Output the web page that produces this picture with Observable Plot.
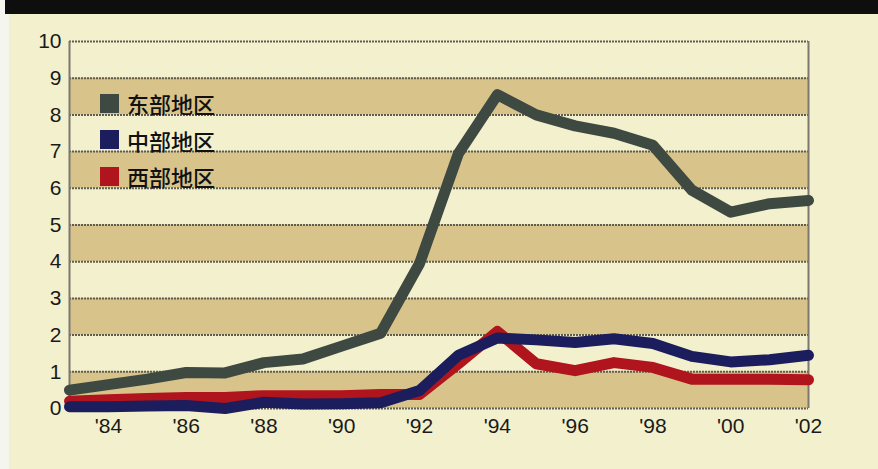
<!DOCTYPE html>
<html><head><meta charset="utf-8">
<script src="https://cdn.jsdelivr.net/npm/d3@7"></script>
<script src="https://cdn.jsdelivr.net/npm/@observablehq/plot@0.6"></script>
<style>
html,body{margin:0;padding:0;background:#f3f0cd;}
#wrap{position:relative;width:878px;height:469px;overflow:hidden;}
#topbar{position:absolute;left:5px;top:0;width:873px;height:14px;background:#0e0e0e;}
#leftstrip{position:absolute;left:0;top:0;width:9px;height:469px;background:#f4f5ee;}
#legend{position:absolute;left:100px;top:85px;font-family:"Noto Sans CJK SC",sans-serif;font-size:22px;font-weight:500;color:#111;}
.item{display:flex;align-items:center;height:36.5px;}
.sw{width:19px;height:19px;margin-right:8px;}
</style></head><body>
<div id="wrap"><div id="chart"></div><div id="leftstrip"></div><div id="topbar"></div><div id="legend"></div></div>
<script>
const years = [1983,1984,1985,1986,1987,1988,1989,1990,1991,1992,1993,1994,1995,1996,1997,1998,1999,2000,2001,2002];
const east = [0.5,0.65,0.8,0.98,0.97,1.25,1.35,1.7,2.05,3.95,6.95,8.55,8.0,7.7,7.5,7.17,5.95,5.35,5.58,5.67];
const central = [0.05,0.05,0.07,0.08,0.0,0.17,0.12,0.13,0.16,0.49,1.45,1.92,1.87,1.8,1.9,1.77,1.42,1.27,1.33,1.45];
const west = [0.2,0.24,0.27,0.3,0.3,0.35,0.35,0.35,0.38,0.38,1.22,2.1,1.22,1.03,1.25,1.12,0.8,0.8,0.8,0.78];
const seriesNames = ["东部地区","中部地区","西部地区"];
const seriesColors = ["#3d4941","#1b1d5c","#b0141c"];
const yTicks = [0,1,2,3,4,5,6,7,8,9,10];
const xTicks = [1984,1986,1988,1990,1992,1994,1996,1998,2000,2002];
const bandStarts = [0,2,4,6,8];

const [x0,x1] = d3.extent(years);
const mk = (vals) => years.map((y,i)=>({year:y, v:vals[i]}));
const lineOpts = (c) => ({x:"year", y:"v", stroke:c, strokeWidth:11, strokeLinejoin:"round", strokeLinecap:"round"});

const plot = Plot.plot({
  width: 878, height: 469,
  marginLeft: 69, marginRight: 70, marginTop: 41, marginBottom: 61,
  style: {background:"transparent", fontFamily:"'Liberation Sans',Arial,sans-serif", fontSize:"21px", color:"#1a1a1a"},
  x: {domain:[x0,x1], label:null},
  y: {domain:[0,10], label:null},
  marks: [
    Plot.rect(bandStarts, {x1:()=>x0, x2:()=>x1, y1:d=>d, y2:d=>d+1, fill:"#d8c48a"}),
    Plot.ruleY(yTicks, {stroke:"#605c50", strokeWidth:2, strokeDasharray:"2,1"}),
    Plot.ruleX([x0,x1], {y1:0, y2:10, stroke:"#7a7870", strokeWidth:2}),
    Plot.axisY({ticks:yTicks, tickSize:0, tickPadding:8, tickFormat:d=>String(d), fontSize:21, label:null}),
    Plot.axisX({ticks:xTicks, tickSize:0, tickPadding:10, tickFormat:d=>"'"+String(d).slice(2), fontSize:21, label:null}),
    Plot.line(mk(west), lineOpts(seriesColors[2])),
    Plot.line(mk(central), lineOpts(seriesColors[1])),
    Plot.line(mk(east), lineOpts(seriesColors[0]))
  ]
});
document.getElementById("chart").appendChild(plot);

const lg = document.getElementById("legend");
seriesNames.forEach((n,i)=>{
  const it = document.createElement("div"); it.className="item";
  const sw = document.createElement("div"); sw.className="sw"; sw.style.background=seriesColors[i];
  const t = document.createElement("span"); t.textContent=n;
  it.appendChild(sw); it.appendChild(t); lg.appendChild(it);
});
</script></body></html>
